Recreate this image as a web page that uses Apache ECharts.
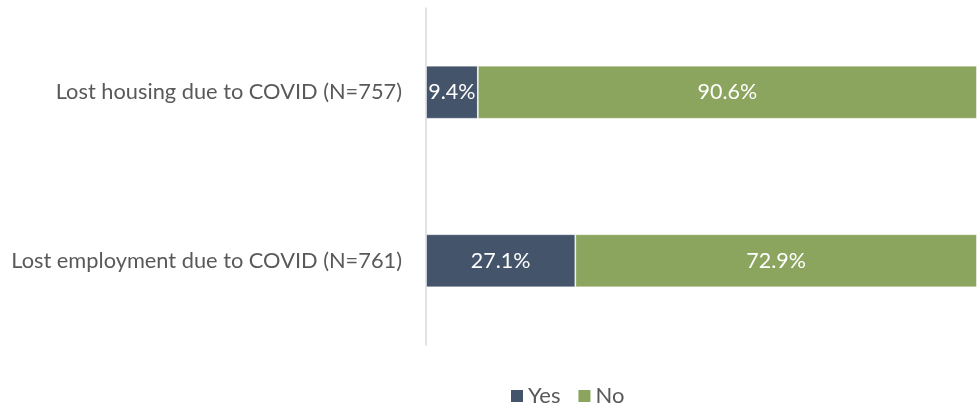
<!DOCTYPE html>
<html><head><meta charset="utf-8">
<script src="https://cdn.jsdelivr.net/npm/echarts@6/dist/echarts.min.js"></script>
<style>html,body{margin:0;padding:0;background:#fff}#c{width:977px;height:408px}</style>
</head><body><div id="c"></div>
<script>
const categories = ["Lost housing due to COVID (N=757)", "Lost employment due to COVID (N=761)"];
const yesValues = [9.4, 27.1];
const noValues = [90.6, 72.9];
const seriesNames = ["Yes", "No"];

const chart = echarts.init(document.getElementById('c'), null, {renderer: 'canvas'});
const font = "Lato, sans-serif";
const lbl = {show: true, position: 'inside', color: '#fff', fontSize: 21.5, fontFamily: font, formatter: p => p.value.toFixed(1) + '%'};
chart.setOption({
  animation: false,
  grid: {left: 426, right: 0, top: 8, bottom: 63, containLabel: false},
  xAxis: {type: 'value', min: 0, max: 100, show: false},
  yAxis: {type: 'category', data: categories, inverse: true,
    axisLine: {show: true, lineStyle: {color: '#D9D9D9', width: 1.5}},
    axisTick: {show: false},
    axisLabel: {color: '#595959', fontSize: 21.8, fontFamily: font, margin: 24}},
  legend: {top: 385, left: 509, itemWidth: 14, itemHeight: 14, itemGap: 16, icon: 'rect', padding: 0,
    textStyle: {color: '#595959', fontSize: 22, fontFamily: font, padding: [0,0,0,-1]}},
  series: [
    {name: seriesNames[0], type: 'bar', stack: 's', data: yesValues, barWidth: 53,
     itemStyle: {color: '#44546A', borderColor: '#fff', borderWidth: 0.7}, label: lbl},
    {name: seriesNames[1], type: 'bar', stack: 's', data: noValues,
     itemStyle: {color: '#8BA55E', borderColor: '#fff', borderWidth: 0.7}, label: lbl}
  ]
});
</script></body></html>
